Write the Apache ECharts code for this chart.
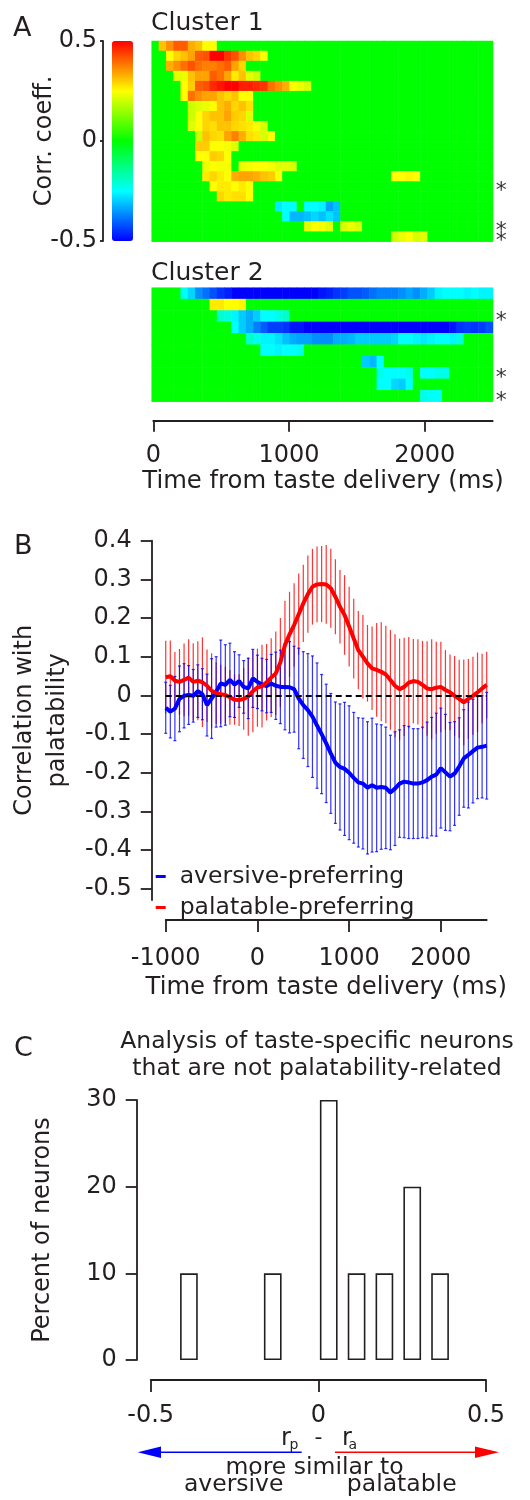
<!DOCTYPE html>
<html>
<head>
<meta charset="utf-8">
<script src="https://cdn.jsdelivr.net/npm/echarts@6/dist/echarts.min.js"></script>
<style>
  html, body { margin: 0; padding: 0; background: #fff; }
  #chart { width: 530px; height: 1500px; }
</style>
</head>
<body>
<div id="chart"></div>
<script>
// ---------- Panel A: correlation heatmaps (47 time bins over 0–2500 ms) ----------
const heatColumns = 47;
const cluster1RowCount = 20;
const cluster2RowCount = 10;

// each row: list of [first bin, [coefficients...]]; unlisted bins are 0
const cluster1Rows = [
  [[1, [0.31, 0.36, 0.41, 0.41, 0.33, 0.31, 0.25, 0.25]]],
  [[2, [0.25, 0.29, 0.31, 0.34, 0.41, 0.42, 0.5, 0.5, 0.45, 0.42, 0.36, 0.31, 0.29, 0.25]]],
  [[2, [0.33, 0.36, 0.39, 0.42, 0.39, 0.375, 0.375, 0.39, 0.41, 0.34, 0.29]]],
  [[3, [0.22, 0.23, 0.31, 0.34, 0.34, 0.41, 0.39, 0.34, 0.27, 0.31, 0.22, 0.2]]],
  [[4, [0.25, 0.3, 0.41, 0.42, 0.46, 0.48, 0.5, 0.5, 0.47, 0.47, 0.46, 0.45, 0.39, 0.36, 0.33, 0.25, 0.23, 0.21]]],
  [[4, [0.25, 0.39, 0.36, 0.34, 0.34, 0.31, 0.29, 0.31, 0.25, 0.25]]],
  [[5, [0.2, 0.22, 0.23, 0.25, 0.31, 0.33, 0.29, 0.31, 0.28]]],
  [[5, [0.2, 0.25, 0.29, 0.31, 0.31, 0.34, 0.3, 0.29, 0.22]]],
  [[5, [0.22, 0.25, 0.29, 0.28, 0.31, 0.31, 0.29, 0.28, 0.27, 0.24, 0.21]]],
  [[6, [0.2, 0.31, 0.29, 0.28, 0.34, 0.375, 0.33, 0.28, 0.27, 0.21, 0.25]]],
  [[6, [0.3, 0.3, 0.25, 0.25, 0.24, 0.22]]],
  [[6, [0.25, 0.25, 0.3, 0.29, 0.25]]],
  [[7, [0.23, 0.25, 0.24, 0.24]], [12, [0.23, 0.24, 0.25, 0.25, 0.24, 0.22, 0.22, 0.21]]],
  [[7, [0.27, 0.29, 0.27, 0.25, 0.33, 0.34, 0.34, 0.33, 0.31, 0.3, 0.25]], [33, [0.25, 0.25, 0.26, 0.25]]],
  [[8, [0.25, 0.27, 0.27, 0.25, 0.27, 0.25]]],
  [[9, [0.29, 0.27, 0.28, 0.28, 0.25]]],
  [[17, [-0.27, -0.25, -0.25]], [21, [-0.25, -0.25, -0.26, -0.34, -0.31]]],
  [[18, [-0.25, -0.32, -0.32, -0.31, -0.29, -0.31, -0.28, -0.31]]],
  [[21, [0.22, 0.25, 0.24, 0.22]], [26, [0.21, 0.23, 0.21]]],
  [[33, [0.2, 0.23, 0.25, 0.21, 0.22]]]
];
const cluster1Stars = [14, 18, 19];

const cluster2Rows = [
  [[4, [-0.24, -0.29, -0.36, -0.39, -0.42, -0.45, -0.47,
        -0.5, -0.5, -0.5, -0.5, -0.5, -0.5, -0.5, -0.5, -0.5, -0.5, -0.5, -0.5,
        -0.48, -0.47, -0.45, -0.44, -0.42, -0.42, -0.41, -0.39, -0.375, -0.375, -0.375, -0.36,
        -0.34, -0.36, -0.33, -0.3, -0.26, -0.25, -0.25, -0.25, -0.26, -0.25, -0.26, -0.26]]],
  [[8, [0.27, 0.27, 0.25, 0.25, 0.26]]],
  [[9, [-0.2, -0.22, -0.26, -0.3, -0.33, -0.3, -0.25, -0.25, -0.23, -0.2]]],
  [[11, [-0.25, -0.3, -0.33, -0.375, -0.41, -0.44, -0.44, -0.45, -0.48, -0.48,
         -0.5, -0.5, -0.5, -0.5, -0.5, -0.5, -0.5, -0.5, -0.5, -0.5,
         -0.5, -0.5, -0.5, -0.5, -0.5, -0.5, -0.5, -0.5, -0.5, -0.5,
         -0.48, -0.45, -0.44, -0.45, -0.44, -0.42]]],
  [[13, [-0.2, -0.23, -0.26, -0.26, -0.28, -0.31, -0.33, -0.34, -0.34, -0.36,
         -0.36, -0.36, -0.33, -0.33, -0.32, -0.3, -0.3, -0.3, -0.3, -0.3,
         -0.29, -0.25, -0.25, -0.26, -0.27, -0.26, -0.25, -0.25, -0.26, -0.22]]],
  [[15, [-0.25, -0.25, -0.26, -0.25, -0.25, -0.23]]],
  [[29, [-0.3, -0.32, -0.25]]],
  [[31, [-0.23, -0.25, -0.25, -0.25, -0.23]], [37, [-0.25, -0.25, -0.23, -0.23]]],
  [[31, [-0.25, -0.25, -0.29, -0.3, -0.25]]],
  [[37, [-0.23, -0.24, -0.25]]]
];
const cluster2Stars = [2, 7, 9];

const heatTimeTicks = [0, 1000, 2000];

// ---------- Panel B: correlation with palatability over time ----------
const timeMs = [-1000, -950, -900, -850, -800, -750, -700, -650, -600, -550,
  -500, -450, -400, -350, -300, -250, -200, -150, -100, -50,
  0, 50, 100, 150, 200, 250, 300, 350, 400, 450,
  500, 550, 600, 650, 700, 750, 800, 850, 900, 950,
  1000, 1050, 1100, 1150, 1200, 1250, 1300, 1350, 1400, 1450,
  1500, 1550, 1600, 1650, 1700, 1750, 1800, 1850, 1900, 1950,
  2000, 2050, 2100, 2150, 2200, 2250, 2300, 2350, 2400, 2450, 2500];

const aversiveMean = [-0.032, -0.042, -0.034, -0.009, -0.001, 0.001, -0.001, 0.011, 0.003, -0.025,
  -0.008, 0.009, 0.031, 0.027, 0.04, 0.028, 0.037, 0.022, 0.018, 0.044,
  0.035, 0.028, 0.024, 0.031, 0.025, 0.022, 0.022, 0.021, 0.016, -0.008,
  -0.025, -0.038, -0.055, -0.078, -0.1, -0.124, -0.15, -0.174, -0.185, -0.19,
  -0.2, -0.213, -0.225, -0.228, -0.239, -0.232, -0.239, -0.237, -0.239, -0.251,
  -0.241, -0.228, -0.223, -0.225, -0.228, -0.228, -0.225, -0.219, -0.21, -0.205,
  -0.188, -0.199, -0.21, -0.202, -0.184, -0.163, -0.154, -0.144, -0.135, -0.133, -0.13];
const aversiveErr = [0.066, 0.068, 0.083, 0.085, 0.083, 0.076, 0.068, 0.068, 0.066, 0.08,
  0.103, 0.091, 0.112, 0.104, 0.095, 0.085, 0.068, 0.068, 0.078, 0.075,
  0.069, 0.068, 0.069, 0.075, 0.087, 0.095, 0.111, 0.118, 0.111, 0.13,
  0.138, 0.146, 0.157, 0.162, 0.154, 0.153, 0.155, 0.157, 0.163, 0.172,
  0.173, 0.169, 0.167, 0.169, 0.171, 0.173, 0.165, 0.161, 0.157, 0.148,
  0.147, 0.139, 0.145, 0.145, 0.142, 0.142, 0.143, 0.15, 0.153, 0.159,
  0.155, 0.15, 0.14, 0.134, 0.126, 0.126, 0.137, 0.134, 0.132, 0.132, 0.138];

const palatableMean = [0.047, 0.05, 0.038, 0.035, 0.04, 0.046, 0.035, 0.038, 0.034, 0.025,
  0.012, 0.006, 0.003, 0.001, -0.005, -0.011, -0.012, -0.009, -0.003, 0.011,
  0.02, 0.024, 0.034, 0.046, 0.057, 0.085, 0.13, 0.158, 0.182, 0.21,
  0.238, 0.262, 0.281, 0.287, 0.288, 0.287, 0.277, 0.255, 0.229, 0.208,
  0.178, 0.147, 0.117, 0.1, 0.083, 0.07, 0.066, 0.061, 0.054, 0.04,
  0.025, 0.016, 0.022, 0.033, 0.037, 0.035, 0.027, 0.018, 0.016, 0.02,
  0.022, 0.014, 0.008, -0.001, -0.009, -0.018, -0.009, -0.001, 0.008, 0.018, 0.027];
const palatableErr = [0.094, 0.092, 0.074, 0.085, 0.094, 0.099, 0.1, 0.102, 0.116, 0.094,
  0.097, 0.08, 0.076, 0.073, 0.071, 0.065, 0.067, 0.08, 0.101, 0.106,
  0.101, 0.107, 0.099, 0.102, 0.108, 0.115, 0.115, 0.11, 0.108, 0.105,
  0.1, 0.1, 0.098, 0.098, 0.098, 0.102, 0.102, 0.097, 0.095, 0.103,
  0.103, 0.103, 0.101, 0.108, 0.099, 0.108, 0.121, 0.128, 0.126, 0.129,
  0.133, 0.131, 0.127, 0.118, 0.109, 0.11, 0.114, 0.122, 0.129, 0.119,
  0.117, 0.103, 0.098, 0.103, 0.101, 0.111, 0.103, 0.101, 0.103, 0.09, 0.086];

const corrAxisTicks = [-0.5, -0.4, -0.3, -0.2, -0.1, 0, 0.1, 0.2, 0.3, 0.4];
const timeTicksB = [-1000, 0, 1000, 2000];

// ---------- Panel C: histogram of r_p - r_a ----------
const histBinCenters = [-0.386, -0.303, -0.220, -0.136, -0.053, 0.031, 0.114, 0.197, 0.280, 0.363];
const histPercent = [10, 0, 0, 10, 0, 30, 10, 10, 20, 10];

// ---------- helpers ----------
function expandRows(rows) {
  const grid = rows.map(() => new Array(heatColumns).fill(0));
  rows.forEach((segments, r) => {
    segments.forEach(([start, vals]) => {
      vals.forEach((v, k) => { grid[r][start + k] = v; });
    });
  });
  const out = [];
  grid.forEach((row, r) => row.forEach((v, c) => out.push([c, r, v])));
  return out;
}
const indexList = n => Array.from({ length: n }, (_, i) => i);
const plainNumber = v => String(v);

const INK = '#231f20';
const FONT = 'DejaVu Sans';
const TICK_FS = 24;
const lineInk = { color: INK, width: 1.8 };

function errorBarSeries(name, mean, err, color, caps) {
  return {
    name: name, type: 'custom', xAxisIndex: 4, yAxisIndex: 4, z: 2, silent: true,
    data: timeMs.map((t, i) => [t, mean[i], err[i]]),
    renderItem: function (params, api) {
      const t = api.value(0), m = api.value(1), e = api.value(2);
      const hi = api.coord([t, m + e]);
      const lo = api.coord([t, m - e]);
      const st = { stroke: color, lineWidth: 1.2, opacity: 0.8 };
      const children = [{ type: 'line', shape: { x1: hi[0], y1: hi[1], x2: lo[0], y2: lo[1] }, style: st }];
      if (caps) {
        children.push({ type: 'line', shape: { x1: hi[0] - 1.5, y1: hi[1], x2: hi[0] + 1.5, y2: hi[1] }, style: st });
        children.push({ type: 'line', shape: { x1: lo[0] - 1.5, y1: lo[1], x2: lo[0] + 1.5, y2: lo[1] }, style: st });
      }
      return { type: 'group', children: children };
    }
  };
}

function starSeries(rows, xi) {
  return {
    type: 'scatter', xAxisIndex: xi, yAxisIndex: xi, silent: true,
    symbolSize: 1, itemStyle: { color: 'rgba(0,0,0,0)' },
    data: rows.map(r => [heatColumns - 1, r]),
    label: { show: true, position: 'right', distance: 6, formatter: '*',
             fontSize: 22, color: '#000', fontFamily: FONT, offset: [0, 5] }
  };
}

function txt(text, x, y, size, align) {
  return { type: 'text', x: x, y: y, silent: true,
    style: { text: text, fontSize: size, fontFamily: FONT, fill: INK,
             align: align || 'left', verticalAlign: 'middle' } };
}

const chart = echarts.init(document.getElementById('chart'), null, { renderer: 'canvas' });

chart.setOption({
  animation: false,
  backgroundColor: '#fff',
  textStyle: { fontFamily: FONT, color: INK },
  grid: [
    { left: 103, top: 41, width: 30, height: 200 },          // colour scale
    { left: 151.7, top: 41, width: 341.3, height: 200.7 },   // cluster 1
    { left: 151.7, top: 287.7, width: 341.3, height: 114 },  // cluster 2
    { left: 153.3, top: 287.7, width: 339.4, height: 114 },  // time axis for A
    { left: 150.7, top: 540.7, width: 336, height: 359.3 },  // panel B
    { left: 150.7, top: 1100, width: 335.3, height: 260 }    // panel C
  ],
  visualMap: {
    type: 'continuous', seriesIndex: [0, 1], min: -0.5, max: 0.5,
    left: 112, top: 41, itemWidth: 21, itemHeight: 200, padding: 0,
    calculable: false, text: null, showLabel: false, hoverLink: false,
    inRange: { color: ['#0000ff', '#00ffff', '#00ff00', '#ffff00', '#ff0000'] }
  },
  legend: {
    orient: 'vertical', left: 150.7, top: 857, itemGap: 2,
    icon: 'rect', itemWidth: 10, itemHeight: 3,
    selectedMode: false,
    data: ['aversive-preferring', 'palatable-preferring'],
    formatter: '{gap| }{name}',
    textStyle: { fontSize: 23.5, fontFamily: FONT, color: INK, lineHeight: 29,
                 rich: { gap: { width: 9 } } }
  },
  xAxis: [
    { gridIndex: 0, type: 'value', show: false },
    { gridIndex: 1, type: 'category', data: indexList(heatColumns), show: false },
    { gridIndex: 2, type: 'category', data: indexList(heatColumns), show: false },
    { gridIndex: 3, type: 'value', min: 0, max: 2500, offset: 19,
      axisLine: { onZero: false, lineStyle: lineInk },
      axisTick: { length: 11, customValues: heatTimeTicks, lineStyle: lineInk },
      axisLabel: { fontSize: TICK_FS, color: INK, margin: 23, customValues: heatTimeTicks, formatter: plainNumber },
      splitLine: { show: false },
      name: 'Time from taste delivery (ms)', nameLocation: 'middle', nameGap: 49,
      nameTextStyle: { fontSize: 24.3, color: INK } },
    { gridIndex: 4, type: 'value', min: -1000, max: 2500, offset: 20,
      axisLine: { onZero: false, lineStyle: lineInk },
      axisTick: { length: 12, customValues: timeTicksB, lineStyle: lineInk },
      axisLabel: { fontSize: TICK_FS, color: INK, margin: 27, customValues: timeTicksB, formatter: plainNumber },
      splitLine: { show: false },
      name: 'Time from taste delivery (ms)', nameLocation: 'middle', nameGap: 56,
      nameTextStyle: { fontSize: 24.3, color: INK } },
    { gridIndex: 5, type: 'value', min: -0.5, max: 0.5, interval: 0.5, offset: 20,
      axisLine: { onZero: false, lineStyle: lineInk },
      axisTick: { length: 12, lineStyle: lineInk },
      axisLabel: { fontSize: TICK_FS, color: INK, margin: 24, formatter: plainNumber },
      splitLine: { show: false } }
  ],
  yAxis: [
    { gridIndex: 0, type: 'value', min: -0.5, max: 0.5, interval: 0.5, position: 'left',
      axisLine: { show: true, onZero: false, lineStyle: lineInk },
      axisTick: { show: true, length: 3, lineStyle: lineInk },
      axisLabel: { fontSize: TICK_FS, color: INK, margin: 6, formatter: plainNumber },
      splitLine: { show: false },
      name: 'Corr. coeff.', nameLocation: 'middle', nameGap: 46, nameMoveOverlap: false,
      nameTextStyle: { fontSize: 24, color: INK } },
    { gridIndex: 1, type: 'category', data: indexList(cluster1RowCount), inverse: true, show: false },
    { gridIndex: 2, type: 'category', data: indexList(cluster2RowCount), inverse: true, show: false },
    { gridIndex: 3, type: 'value', show: false },
    { gridIndex: 4, type: 'value', min: -0.529, max: 0.4, offset: 14,
      axisLine: { show: true, onZero: false, lineStyle: lineInk },
      axisTick: { show: true, length: 11, customValues: corrAxisTicks, lineStyle: lineInk },
      axisLabel: { fontSize: TICK_FS, color: INK, margin: 20, customValues: corrAxisTicks, formatter: plainNumber },
      splitLine: { show: false },
      name: 'Correlation with\npalatability', nameLocation: 'middle', nameGap: 64,
      nameTextStyle: { fontSize: 24, color: INK, lineHeight: 33 } },
    { gridIndex: 5, type: 'value', min: 0, max: 30, interval: 10, offset: 14,
      axisLine: { show: true, onZero: false, lineStyle: lineInk },
      axisTick: { show: true, length: 11, lineStyle: lineInk },
      axisLabel: { fontSize: TICK_FS, color: INK, margin: 20, formatter: plainNumber },
      splitLine: { show: false },
      name: 'Percent of neurons', nameLocation: 'middle', nameGap: 82,
      nameTextStyle: { fontSize: 24, color: INK } }
  ],
  series: [
    { type: 'heatmap', xAxisIndex: 1, yAxisIndex: 1, data: expandRows(cluster1Rows),
      itemStyle: { borderWidth: 0 }, emphasis: { disabled: true }, silent: true, progressive: 0 },
    { type: 'heatmap', xAxisIndex: 2, yAxisIndex: 2, data: expandRows(cluster2Rows),
      itemStyle: { borderWidth: 0 }, emphasis: { disabled: true }, silent: true, progressive: 0 },
    starSeries(cluster1Stars, 1),
    starSeries(cluster2Stars, 2),
    errorBarSeries('palatable-error', palatableMean, palatableErr, '#ff0000', false),
    errorBarSeries('aversive-error', aversiveMean, aversiveErr, '#0000ff', true),
    { name: 'aversive-preferring', type: 'line', xAxisIndex: 4, yAxisIndex: 4, z: 3,
      data: timeMs.map((t, i) => [t, aversiveMean[i]]), showSymbol: false, silent: true,
      color: '#0000ff', lineStyle: { width: 4, color: '#0000ff' } },
    { name: 'palatable-preferring', type: 'line', xAxisIndex: 4, yAxisIndex: 4, z: 4,
      data: timeMs.map((t, i) => [t, palatableMean[i]]), showSymbol: false, silent: true,
      color: '#ff0000', lineStyle: { width: 4, color: '#ff0000' },
      markLine: { silent: true, symbol: ['none', 'none'], label: { show: false },
        lineStyle: { color: '#000', type: [6, 4], width: 1.8 }, data: [{ yAxis: 0 }] } },
    { type: 'bar', xAxisIndex: 5, yAxisIndex: 5, barWidth: 17.7, silent: true,
      data: histBinCenters.map((b, i) => [b, histPercent[i]]).filter(d => d[1] > 0),
      itemStyle: { color: '#fff', borderColor: INK, borderWidth: 1.6 } }
  ],
  graphic: { elements: [
    txt('A', 13, 29, 27),
    txt('Cluster 1', 151, 23, 25),
    txt('Cluster 2', 151, 273, 25),
    txt('B', 14, 547, 27),
    txt('C', 14, 1049, 27),
    txt('Analysis of taste-specific neurons', 317, 1042, 23.5, 'center'),
    txt('that are not palatability-related', 317, 1069, 23.5, 'center'),
    txt('r', 281, 1439, 24),
    txt('p', 289.5, 1445, 14),
    txt('-', 318.5, 1438, 22, 'center'),
    txt('r', 342, 1439, 24),
    txt('a', 348.5, 1445, 14),
    { type: 'line', silent: true, shape: { x1: 301.7, y1: 1452.3, x2: 155, y2: 1452.3 },
      style: { stroke: '#0000ff', lineWidth: 1.5 } },
    { type: 'polygon', silent: true, shape: { points: [[137.7, 1452.3], [161, 1446.5], [161, 1458.1]] },
      style: { fill: '#0000ff' } },
    { type: 'line', silent: true, shape: { x1: 335, y1: 1452.3, x2: 480, y2: 1452.3 },
      style: { stroke: '#ff0000', lineWidth: 1.5 } },
    { type: 'polygon', silent: true, shape: { points: [[499, 1452.3], [475, 1446.5], [475, 1458.1]] },
      style: { fill: '#ff0000' } },
    txt('more similar to', 314.5, 1468, 23.5, 'center'),
    txt('aversive', 233.7, 1485, 23.5, 'center'),
    txt('palatable', 401.7, 1485, 23.5, 'center')
  ] }
});
</script>
</body>
</html>
